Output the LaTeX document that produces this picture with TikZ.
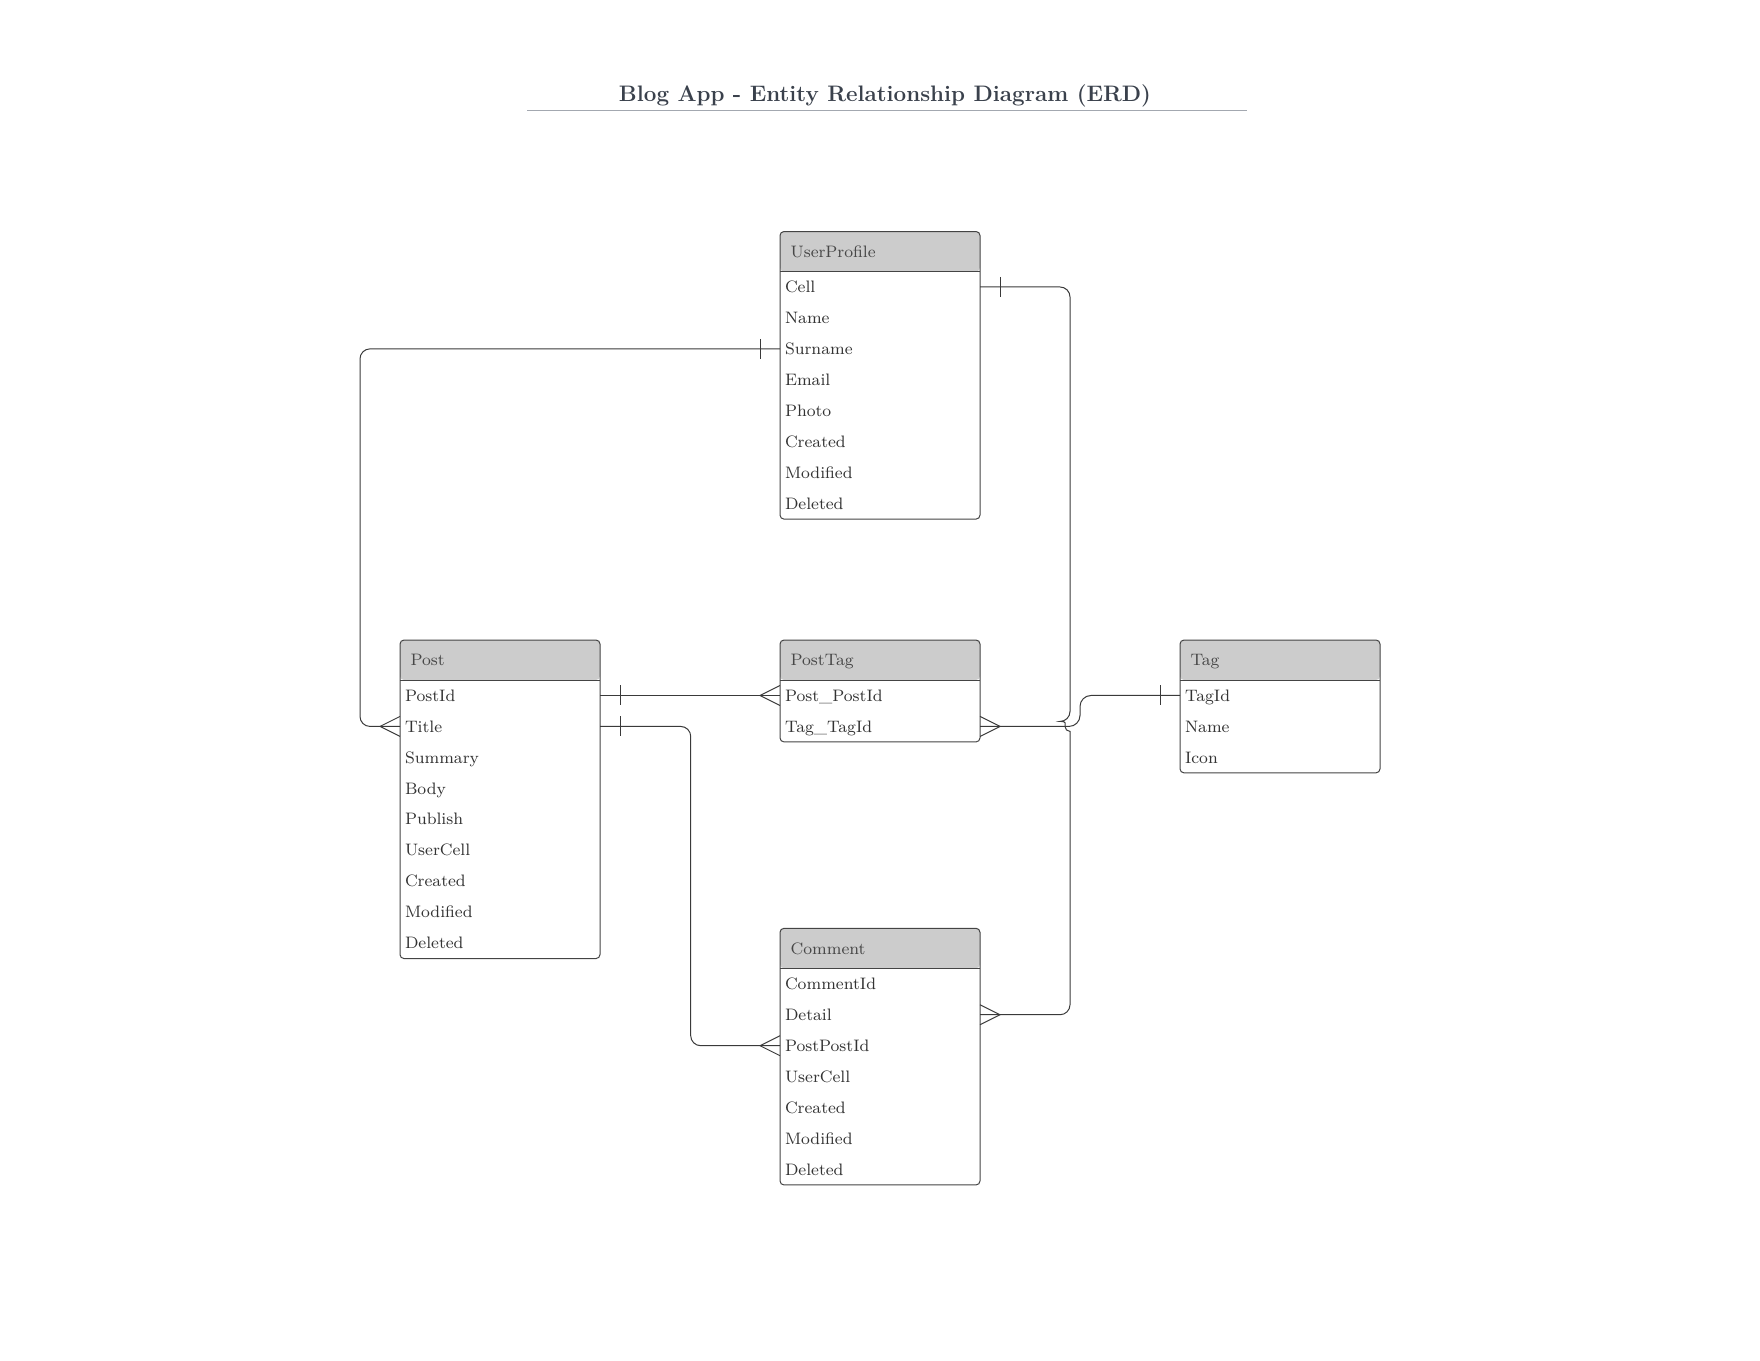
\documentclass[tikz,border=0pt]{standalone}
\usepackage{fontspec}
\usetikzlibrary{positioning}
\definecolor{hdrgray}{HTML}{CCCCCC}
\definecolor{hdrtext}{HTML}{474747}
\definecolor{fieldtext}{HTML}{333333}
\definecolor{framegray}{HTML}{444444}
\definecolor{linegray}{HTML}{3A3A3A}
\definecolor{titletext}{HTML}{3A414C}
\definecolor{titleline}{HTML}{A3A8B0}
\newcommand{\erdfont}{\fontsize{8.3}{10}\selectfont}
\newcommand{\erdtitlefont}{\fontsize{11.2}{13}\selectfont\bfseries}

\begin{document}
\begin{tikzpicture}[x=0.5pt, y=-0.5pt,
  one/.pic={\draw [endtick] (20,-10) -- (20,10);},
  many/.pic={\draw [endtick] (0,-10) -- (20,0) -- (0,10);}]
% Define styles
\tikzstyle{header} = [rectangle, rounded corners=2pt, fill=hdrgray, text=hdrtext, font=\erdfont, text width=89.4pt, inner xsep=5.3pt, inner ysep=0pt, outer sep=0pt, minimum height=20pt, text height=6.1pt, text depth=0.4pt, align=left]
\tikzstyle{field} = [rectangle, text=fieldtext, font=\erdfont, text width=95pt, inner xsep=2.5pt, inner ysep=0pt, outer sep=0pt, minimum height=15.475pt, text height=6.1pt, text depth=0.4pt, align=left]
\tikzstyle{frame} = [draw=framegray, line width=0.5pt, rounded corners=2pt]
\tikzstyle{conn} = [draw=linegray, line width=0.5pt, rounded corners=5pt]
\tikzstyle{endtick} = [draw=linegray, line width=0.5pt]
\tikzstyle{titlestyle} = [text=titletext, font=\erdtitlefont, inner sep=0pt]
\tikzstyle{titlerule} = [draw=titleline, line width=0.8pt]

\useasboundingbox (0,0) rectangle (1760,1360);

% Title
\node (title) [titlestyle, anchor=base] at (885,101.7) {Blog App - Entity Relationship Diagram (ERD)};
\draw [titlerule] (527,110.5) -- (1247,110.5);

% UserProfile
\node (userprofile) [header] at (880,251.5) {UserProfile};
\node (up_cell) [field, below=0pt of userprofile] {Cell};
\node (up_name) [field, below=0pt of up_cell] {Name};
\node (up_surname) [field, below=0pt of up_name] {Surname};
\node (up_email) [field, below=0pt of up_surname] {Email};
\node (up_photo) [field, below=0pt of up_email] {Photo};
\node (up_created) [field, below=0pt of up_photo] {Created};
\node (up_modified) [field, below=0pt of up_created] {Modified};
\node (up_deleted) [field, below=0pt of up_modified] {Deleted};
\draw [frame] (userprofile.north west) rectangle (up_deleted.south east);
\draw [frame, sharp corners] (userprofile.south west) -- (userprofile.south east);

% Post
\node (post) [header] at (500,660) {Post};
\node (post_id) [field, below=0pt of post] {PostId};
\node (post_title) [field, below=0pt of post_id] {Title};
\node (post_summary) [field, below=0pt of post_title] {Summary};
\node (post_body) [field, below=0pt of post_summary] {Body};
\node (post_publish) [field, below=0pt of post_body] {Publish};
\node (post_usercell) [field, below=0pt of post_publish] {UserCell};
\node (post_created) [field, below=0pt of post_usercell] {Created};
\node (post_modified) [field, below=0pt of post_created] {Modified};
\node (post_deleted) [field, below=0pt of post_modified] {Deleted};
\draw [frame] (post.north west) rectangle (post_deleted.south east);
\draw [frame, sharp corners] (post.south west) -- (post.south east);

% PostTag
\node (posttag) [header] at (880,660) {PostTag};
\node (pt_post) [field, below=0pt of posttag] {Post\_PostId};
\node (pt_tag) [field, below=0pt of pt_post] {Tag\_TagId};
\draw [frame] (posttag.north west) rectangle (pt_tag.south east);
\draw [frame, sharp corners] (posttag.south west) -- (posttag.south east);

% Tag
\node (tag) [header] at (1280,660) {Tag};
\node (tag_id) [field, below=0pt of tag] {TagId};
\node (tag_name) [field, below=0pt of tag_id] {Name};
\node (tag_icon) [field, below=0pt of tag_name] {Icon};
\draw [frame] (tag.north west) rectangle (tag_icon.south east);
\draw [frame, sharp corners] (tag.south west) -- (tag.south east);

% Comment
\node (comment) [header] at (880,948.3) {Comment};
\node (cm_id) [field, below=0pt of comment] {CommentId};
\node (cm_detail) [field, below=0pt of cm_id] {Detail};
\node (cm_postid) [field, below=0pt of cm_detail] {PostPostId};
\node (cm_usercell) [field, below=0pt of cm_postid] {UserCell};
\node (cm_created) [field, below=0pt of cm_usercell] {Created};
\node (cm_modified) [field, below=0pt of cm_created] {Modified};
\node (cm_deleted) [field, below=0pt of cm_modified] {Deleted};
\draw [frame] (comment.north west) rectangle (cm_deleted.south east);
\draw [frame, sharp corners] (comment.south west) -- (comment.south east);

% Routing rails
\coordinate (lrail) at (360,0);
\coordinate (mrail) at (690.7,0);
\coordinate (rrail) at (1070,0);
\coordinate (tbend) at (1080,0);
\coordinate (hop) at ([yshift=2.5pt]rrail |- pt_tag.east);
\coordinate (hopend) at ([yshift=-8pt]rrail |- pt_tag.east);

% Draw connectors
\draw [conn] (up_cell.east) -- (up_cell.east -| rrail) -- (hop) [sharp corners] arc[start angle=270, end angle=90, radius=5] -- (hopend) [rounded corners=5pt] -- (cm_detail.east -| rrail) -- (cm_detail.east);
\draw [conn] (up_surname.west) -- (up_surname.west -| lrail) -- (post_title.west -| lrail) -- (post_title.west);
\draw [conn] (post_id.east) -- (pt_post.west);
\draw [conn] (post_title.east) -- (post_title.east -| mrail) -- (cm_postid.west -| mrail) -- (cm_postid.west);
\draw [conn, rounded corners=5.5pt] (pt_tag.east) -- (pt_tag.east -| tbend) -- (tag_id.west -| tbend) -- (tag_id.west);

% Cardinality marks
\pic at (up_cell.east) {one};
\pic at (cm_detail.east) {many};
\pic [xscale=-1] at (up_surname.west) {one};
\pic [xscale=-1] at (post_title.west) {many};
\pic at (post_id.east) {one};
\pic [xscale=-1] at (pt_post.west) {many};
\pic at (post_title.east) {one};
\pic [xscale=-1] at (cm_postid.west) {many};
\pic [xscale=-1] at (tag_id.west) {one};
\pic at (pt_tag.east) {many};
\end{tikzpicture}
\end{document}
